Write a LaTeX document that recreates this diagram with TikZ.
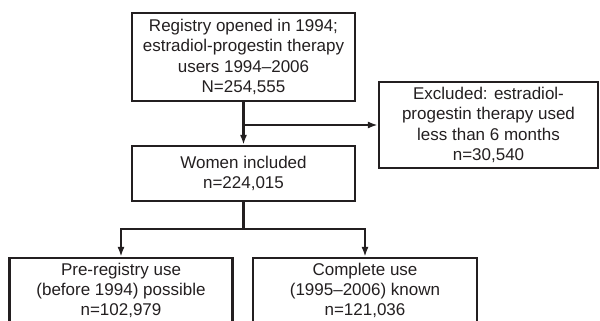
\documentclass[tikz,border=0pt]{standalone}
\usepackage{fontspec}
\setmainfont{Liberation Sans}
\usetikzlibrary{arrows.meta}
\definecolor{ink}{HTML}{231F20}
\begin{document}
\begin{tikzpicture}[x=1pt,y=-1pt,
  box/.style={draw=ink, line width=2.2pt, rectangle, align=center, inner sep=0pt, text=ink, font=\fontsize{17}{20.4}\selectfont},
  conn/.style={draw=ink, line width=2.2pt},
  arr/.style={conn, -{Latex[length=10pt,width=7pt]}}]
\useasboundingbox (0,0) rectangle (600,321);
\node[box, minimum width=223pt, minimum height=88pt] (top) at (243.5,57) {Registry opened in 1994;\\estradiol-progestin therapy\\users 1994--2006\\N=254,555};
\node[box, minimum width=223pt, minimum height=55pt] (mid) at (243.5,173.5) {Women included\\n=224,015};
\node[box, minimum width=219pt, minimum height=86pt] (excl) at (488.5,125) {Excluded: estradiol-\\progestin therapy used\\less than 6 months\\n=30,540};
\node[box, minimum width=223pt, minimum height=65pt] (left) at (121,290.5) {Pre-registry use\\(before 1994) possible\\n=102,979};
\node[box, minimum width=224pt, minimum height=65pt] (right) at (365,290.5) {Complete use\\(1995--2006) known\\n=121,036};
\coordinate (b1) at (top.south |- excl.west);
\coordinate (b2) at (243.5,229);
\draw[arr] (top.south) -- (mid.north);
\draw[arr] (b1) -- (excl.west);
\draw[conn] (mid.south) -- (b2);
\draw[arr] (b2) -| (left.north);
\draw[arr] (b2) -| (right.north);
\end{tikzpicture}
\end{document}
